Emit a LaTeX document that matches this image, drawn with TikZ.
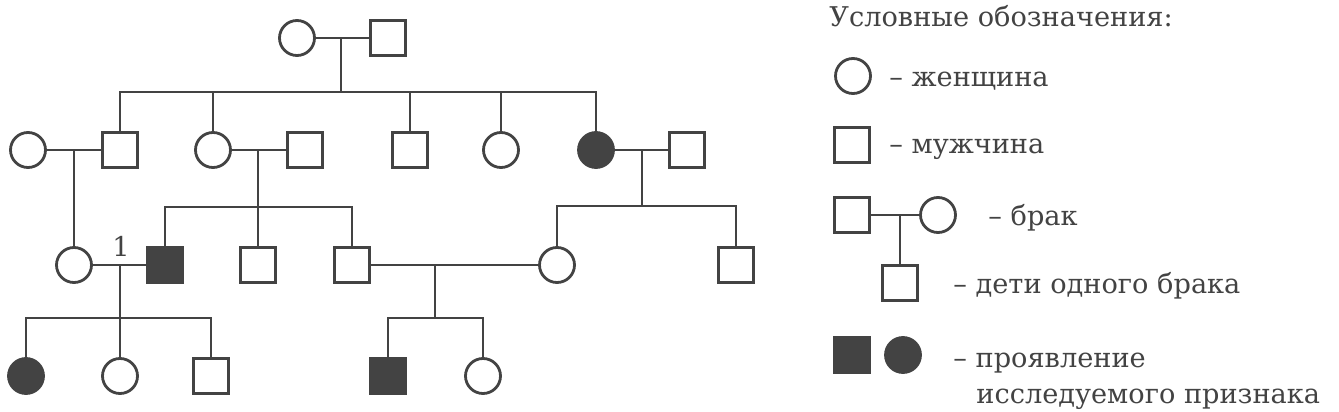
\documentclass[tikz,border=0pt]{standalone}
\usepackage{fontspec}
\setmainfont{DejaVu Serif}
\definecolor{ink}{HTML}{434343}
\begin{document}
\begin{tikzpicture}[x=1pt,y=-1pt,color=ink,line width=2.8pt,
  fem/.style={circle,draw=ink,minimum size=35pt,inner sep=0pt,line width=2.8pt},
  mal/.style={rectangle,draw=ink,minimum size=35pt,inner sep=0pt,line width=2.8pt},
  aff/.style={fill=ink},
  lbl/.style={anchor=base west,inner sep=0pt,text=ink,font=\fontsize{27.2}{31}\selectfont}]
\useasboundingbox (0,0) rectangle (1339,412);
% Generation I
\node[fem] (If) at (297,38) {};
\node[mal] (Im) at (388,38) {};
\draw (If) -- (Im);
\coordinate (mI) at (341,38);
\coordinate (sI) at (341,92);
\draw (mI) -- (sI);
% Generation II
\node[fem] (IIa) at (28,150) {};
\node[mal] (IIb) at (120,150) {};
\node[fem] (IIc) at (213,150) {};
\node[mal] (IId) at (305,150) {};
\node[mal] (IIe) at (410,150) {};
\node[fem] (IIf) at (501,150) {};
\node[fem,aff] (IIg) at (596,150) {};
\node[mal] (IIh) at (687,150) {};
\foreach \c in {IIb,IIc,IIe,IIf,IIg} \draw (\c.north) |- (sI);
\draw (IIa) -- (IIb);
\draw (IIc) -- (IId);
\draw (IIg) -- (IIh);
% Generation III
\node[fem] (IIIa) at (74,265) {};
\node[mal,aff] (IIIb) at (165,265) {};
\node[mal] (IIIc) at (258,265) {};
\node[mal] (IIId) at (352,265) {};
\node[fem] (IIIe) at (557,265) {};
\node[mal] (IIIf) at (736,265) {};
\coordinate (mA) at (74,150);
\draw (mA) -- (IIIa);
\coordinate (mB) at (258,150);
\coordinate (sB) at (258,207);
\draw (mB) -- (sB);
\foreach \c in {IIIb,IIIc,IIId} \draw (\c.north) |- (sB);
\coordinate (mC) at (642,150);
\coordinate (sC) at (642,206);
\draw (mC) -- (sC);
\foreach \c in {IIIe,IIIf} \draw (\c.north) |- (sC);
\draw (IIIa) -- (IIIb);
\draw (IIId) -- (IIIe);
\node[lbl,anchor=base] (one) at (121,256) {1};
% Generation IV
\node[fem,aff] (IVa) at (26,376) {};
\node[fem] (IVb) at (120,376) {};
\node[mal] (IVc) at (211,376) {};
\node[mal,aff] (IVd) at (388,376) {};
\node[fem] (IVe) at (483,376) {};
\coordinate (mD) at (120,265);
\coordinate (sD) at (120,318);
\draw (mD) -- (sD);
\foreach \c in {IVa,IVb,IVc} \draw (\c.north) |- (sD);
\coordinate (mE) at (435,265);
\coordinate (sE) at (435,318);
\draw (mE) -- (sE);
\foreach \c in {IVd,IVe} \draw (\c.north) |- (sE);
% Legend
\node[lbl] (title) at (828,27) {Условные обозначения:};
\node[fem] (L1) at (853,76) {};
\node[lbl] (t1) at (888,86) {– женщина};
\node[mal] (L2) at (852,145) {};
\node[lbl] (t2) at (888,153) {– мужчина};
\node[mal] (L3) at (852,215) {};
\node[fem] (L4) at (938,215) {};
\draw (L3) -- (L4);
\node[mal] (L5) at (900,283) {};
\coordinate (mL) at (900,215);
\draw (mL) -- (L5);
\node[lbl] (t3) at (987,225) {– брак};
\node[lbl] (t4) at (952,293) {– дети одного брака};
\node[mal,aff] (L6) at (852,355) {};
\node[fem,aff] (L7) at (903,355) {};
\node[lbl] (t5) at (952,367) {– проявление};
\node[lbl] (t6) at (975,403) {исследуемого признака};
\end{tikzpicture}
\end{document}
